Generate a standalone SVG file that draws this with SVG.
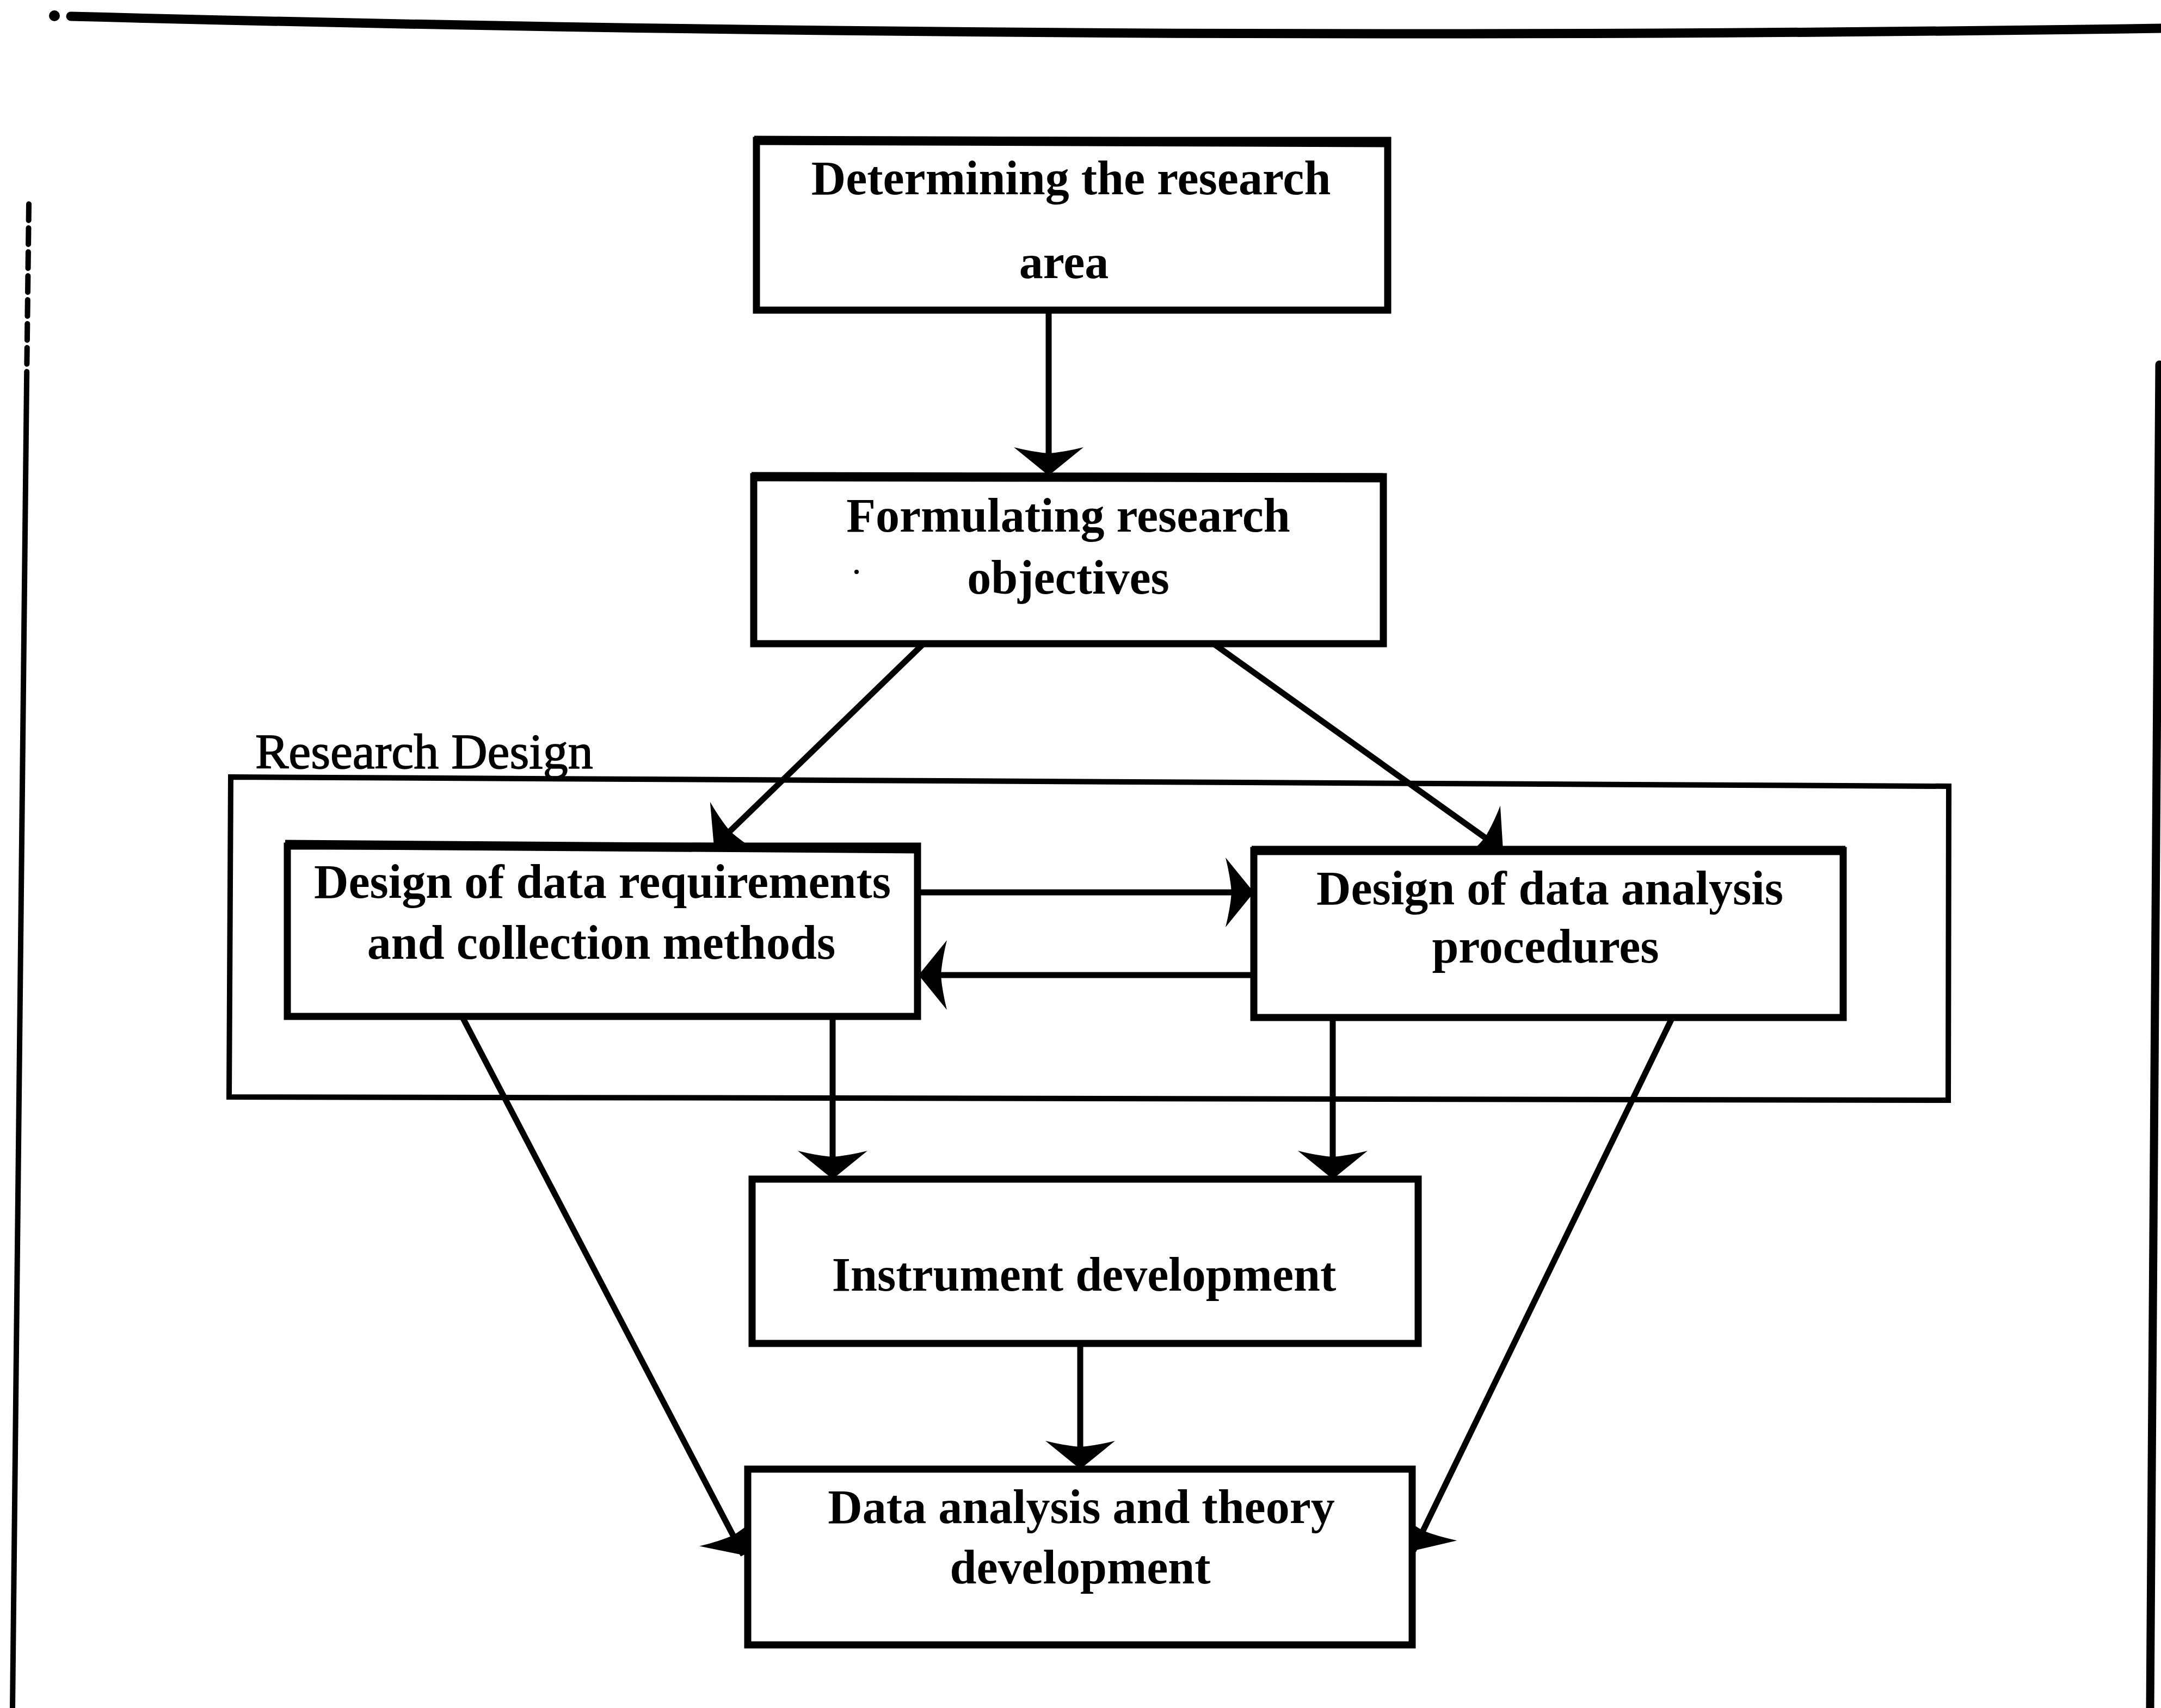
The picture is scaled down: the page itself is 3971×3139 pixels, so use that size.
<svg xmlns="http://www.w3.org/2000/svg" width="3971" height="3139" viewBox="0 0 3971 3139">
  <style>
    .frame { fill: none; stroke: #000; stroke-linecap: round; }
    .box { fill: #fff; stroke: #000; stroke-width: 13; }
    .topedge { stroke: #000; stroke-width: 17; }
    .group { fill: none; stroke: #000; stroke-width: 10; stroke-linejoin: miter; }
    .conn { fill: none; stroke: #000; stroke-width: 11; marker-end: url(#head); }
    .label { font-family: "Liberation Serif", "Times New Roman", serif; font-weight: bold; font-size: 88px; fill: #000; text-anchor: middle; }
    .title { font-family: "Liberation Serif", "Times New Roman", serif; font-size: 92px; fill: #000; stroke: #000; stroke-width: 1.5; }
  </style>
  <defs>
    <marker id="head" markerUnits="userSpaceOnUse" markerWidth="130" markerHeight="140" viewBox="-55 -70 60 140" refX="0" refY="0" orient="auto">
      <path d="M0,0 L-52,-64 Q-43,-28 -41,0 Q-43,28 -52,64 Z" fill="#000"/>
    </marker>
  </defs>
  <rect width="3971" height="3139" fill="#fff"/>

  <!-- page frame -->
  <g id="frame">
    <circle cx="100" cy="29" r="10" fill="#000"/>
    <path class="frame" d="M130,30 Q2050,80 3971,52" stroke-width="17"/>
    <path class="frame" d="M53,375 L49,700" stroke-width="10" stroke-dasharray="30 14" stroke-linecap="butt"/>
    <path class="frame" d="M49,700 L23,3139" stroke-width="10"/>
    <path class="frame" d="M3968,670 L3951,3139" stroke-width="15"/>
  </g>

  <!-- research design container -->
  <g id="research-design">
    <polygon class="group" points="424,1428 3581,1445 3580,2022 421,2016"/>
    <text class="title" x="469" y="1412">Research Design</text>
  </g>

  <!-- connectors -->
  <g id="connectors">
    <path class="conn" d="M1927,570 L1927,874"/>
    <path class="conn" d="M1697,1183 L1312,1556"/>
    <path class="conn" d="M2230,1183 L2762,1563"/>
    <path class="conn" d="M1686,1640 L2304,1640"/>
    <path class="conn" d="M2304,1792 L1688,1792"/>
    <path class="conn" d="M1530,1868 L1530,2167"/>
    <path class="conn" d="M2449,1870 L2449,2167"/>
    <path class="conn" d="M848,1866 L1366,2858"/>
    <path class="conn" d="M3074,1868 L2597,2850"/>
    <path class="conn" d="M1985,2469 L1985,2700"/>
  </g>

  <!-- nodes -->
  <g id="node-research-area">
    <rect class="box" x="1390" y="258" width="1160" height="312"/>
    <line class="topedge" x1="1386" y1="258" x2="2554" y2="262"/>
    <text class="label" x="1968" y="357">Determining the research</text>
    <text class="label" x="1955" y="511">area</text>
  </g>

  <g id="node-objectives">
    <rect class="box" x="1385" y="876" width="1157" height="307"/>
    <line class="topedge" x1="1381" y1="876" x2="2546" y2="878"/>
    <circle cx="1574" cy="1051" r="4" fill="#000"/>
    <text class="label" x="1963" y="977">Formulating research</text>
    <text class="label" x="1963" y="1091">objectives</text>
  </g>

  <g id="node-data-requirements">
    <rect class="box" x="528" y="1555" width="1158" height="313"/>
    <line class="topedge" x1="524" y1="1552" x2="1690" y2="1560"/>
    <text class="label" x="1107" y="1650">Design of data requirements</text>
    <text class="label" x="1105" y="1762">and collection methods</text>
  </g>

  <g id="node-analysis-procedures">
    <rect class="box" x="2304" y="1563" width="1083" height="307"/>
    <line class="topedge" x1="2300" y1="1563" x2="3391" y2="1563"/>
    <text class="label" x="2848" y="1662">Design of data analysis</text>
    <text class="label" x="2840" y="1769">procedures</text>
  </g>

  <g id="node-instrument">
    <rect class="box" x="1382" y="2167" width="1224" height="302"/>
    <text class="label" x="1992" y="2372">Instrument development</text>
  </g>

  <g id="node-theory">
    <rect class="box" x="1374" y="2700" width="1221" height="323"/>
    <text class="label" x="1987" y="2799">Data analysis and theory</text>
    <text class="label" x="1985" y="2910">development</text>
  </g>
</svg>
